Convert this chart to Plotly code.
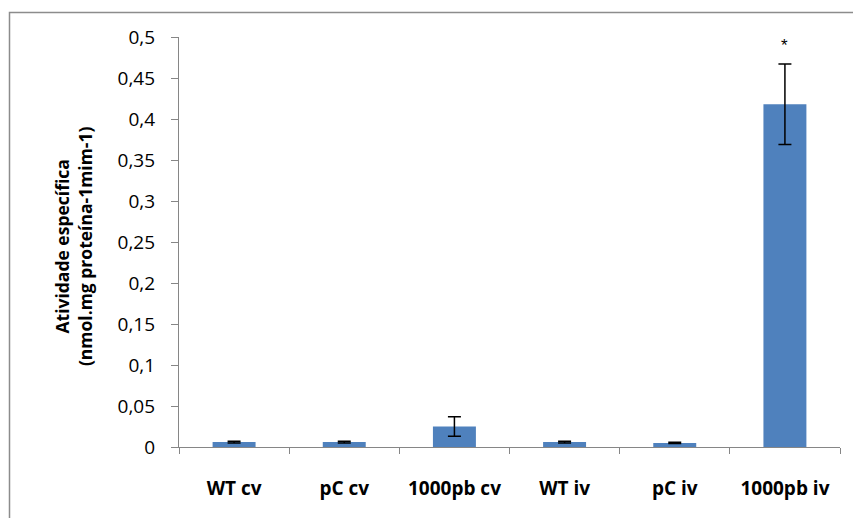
import plotly.graph_objects as go

categories = ["WT cv", "pC cv", "1000pb cv", "WT iv", "pC iv", "1000pb iv"]
values = [0.006, 0.006, 0.025, 0.006, 0.005, 0.418]
errors = [0.001, 0.001, 0.012, 0.001, 0.0008, 0.049]
y_ticks = [0, 0.05, 0.1, 0.15, 0.2, 0.25, 0.3, 0.35, 0.4, 0.45, 0.5]
y_title = "Atividade específica<br>(nmol.mg proteína-1mim-1)"
marker_text = "*"

W, H = 853, 518
L, R, T, B = 179, 13, 37, 71
pw, ph = W - L - R, H - T - B

fig = go.Figure()
fig.add_trace(go.Bar(
    x=categories, y=values,
    marker=dict(color="#4F81BD", line=dict(width=0)),
    width=0.39,
    error_y=dict(type="data", array=errors, visible=True, color="black", thickness=1.5, width=6.5),
))

fig.add_annotation(x=categories[-1], y=values[-1] + errors[-1], yref="y", xref="x",
                   text=marker_text, showarrow=False, yshift=19,
                   font=dict(size=17, color="black", family="Liberation Sans"))

fig.add_annotation(xref="paper", yref="paper", x=(73 - L) / pw, y=0.49,
                   text="<b>" + y_title + "</b>", textangle=-90, showarrow=False,
                   xanchor="center", yanchor="middle",
                   font=dict(size=17.5, color="black", family="Open Sans"))

# outer chart border
fig.add_shape(type="rect", xref="paper", yref="paper",
              x0=(9.5 - L) / pw, x1=(W + 20 - L) / pw,
              y0=-(H + 20 - T - ph) / ph, y1=1 + (T - 12.5) / ph,
              line=dict(color="#8C8C8C", width=1.5), fillcolor="rgba(0,0,0,0)", layer="below")

fig.update_layout(
    width=W, height=H,
    margin=dict(l=L, r=R, t=T, b=B),
    plot_bgcolor="white", paper_bgcolor="white",
    separators=",.",
    showlegend=False,
    bargap=0.61,
    xaxis=dict(
        showline=True, linecolor="#868686", linewidth=1.2,
        ticks="outside", tickson="boundaries", ticklen=6, tickcolor="#868686",
        tickfont=dict(size=19, color="black", family="Open Sans", weight="bold"),
        ticklabelstandoff=24, showgrid=False, range=[-0.5, 5.5],
    ),
    yaxis=dict(
        range=[0, 0.5], tickvals=y_ticks, showline=True, linecolor="#868686", linewidth=1.2,
        ticks="outside", ticklen=7, tickcolor="#868686", showgrid=False, zeroline=False,
        tickfont=dict(size=19, color="black", family="Open Sans"),
        ticklabelstandoff=12,
    ),
)

fig.write_html("out.html")
